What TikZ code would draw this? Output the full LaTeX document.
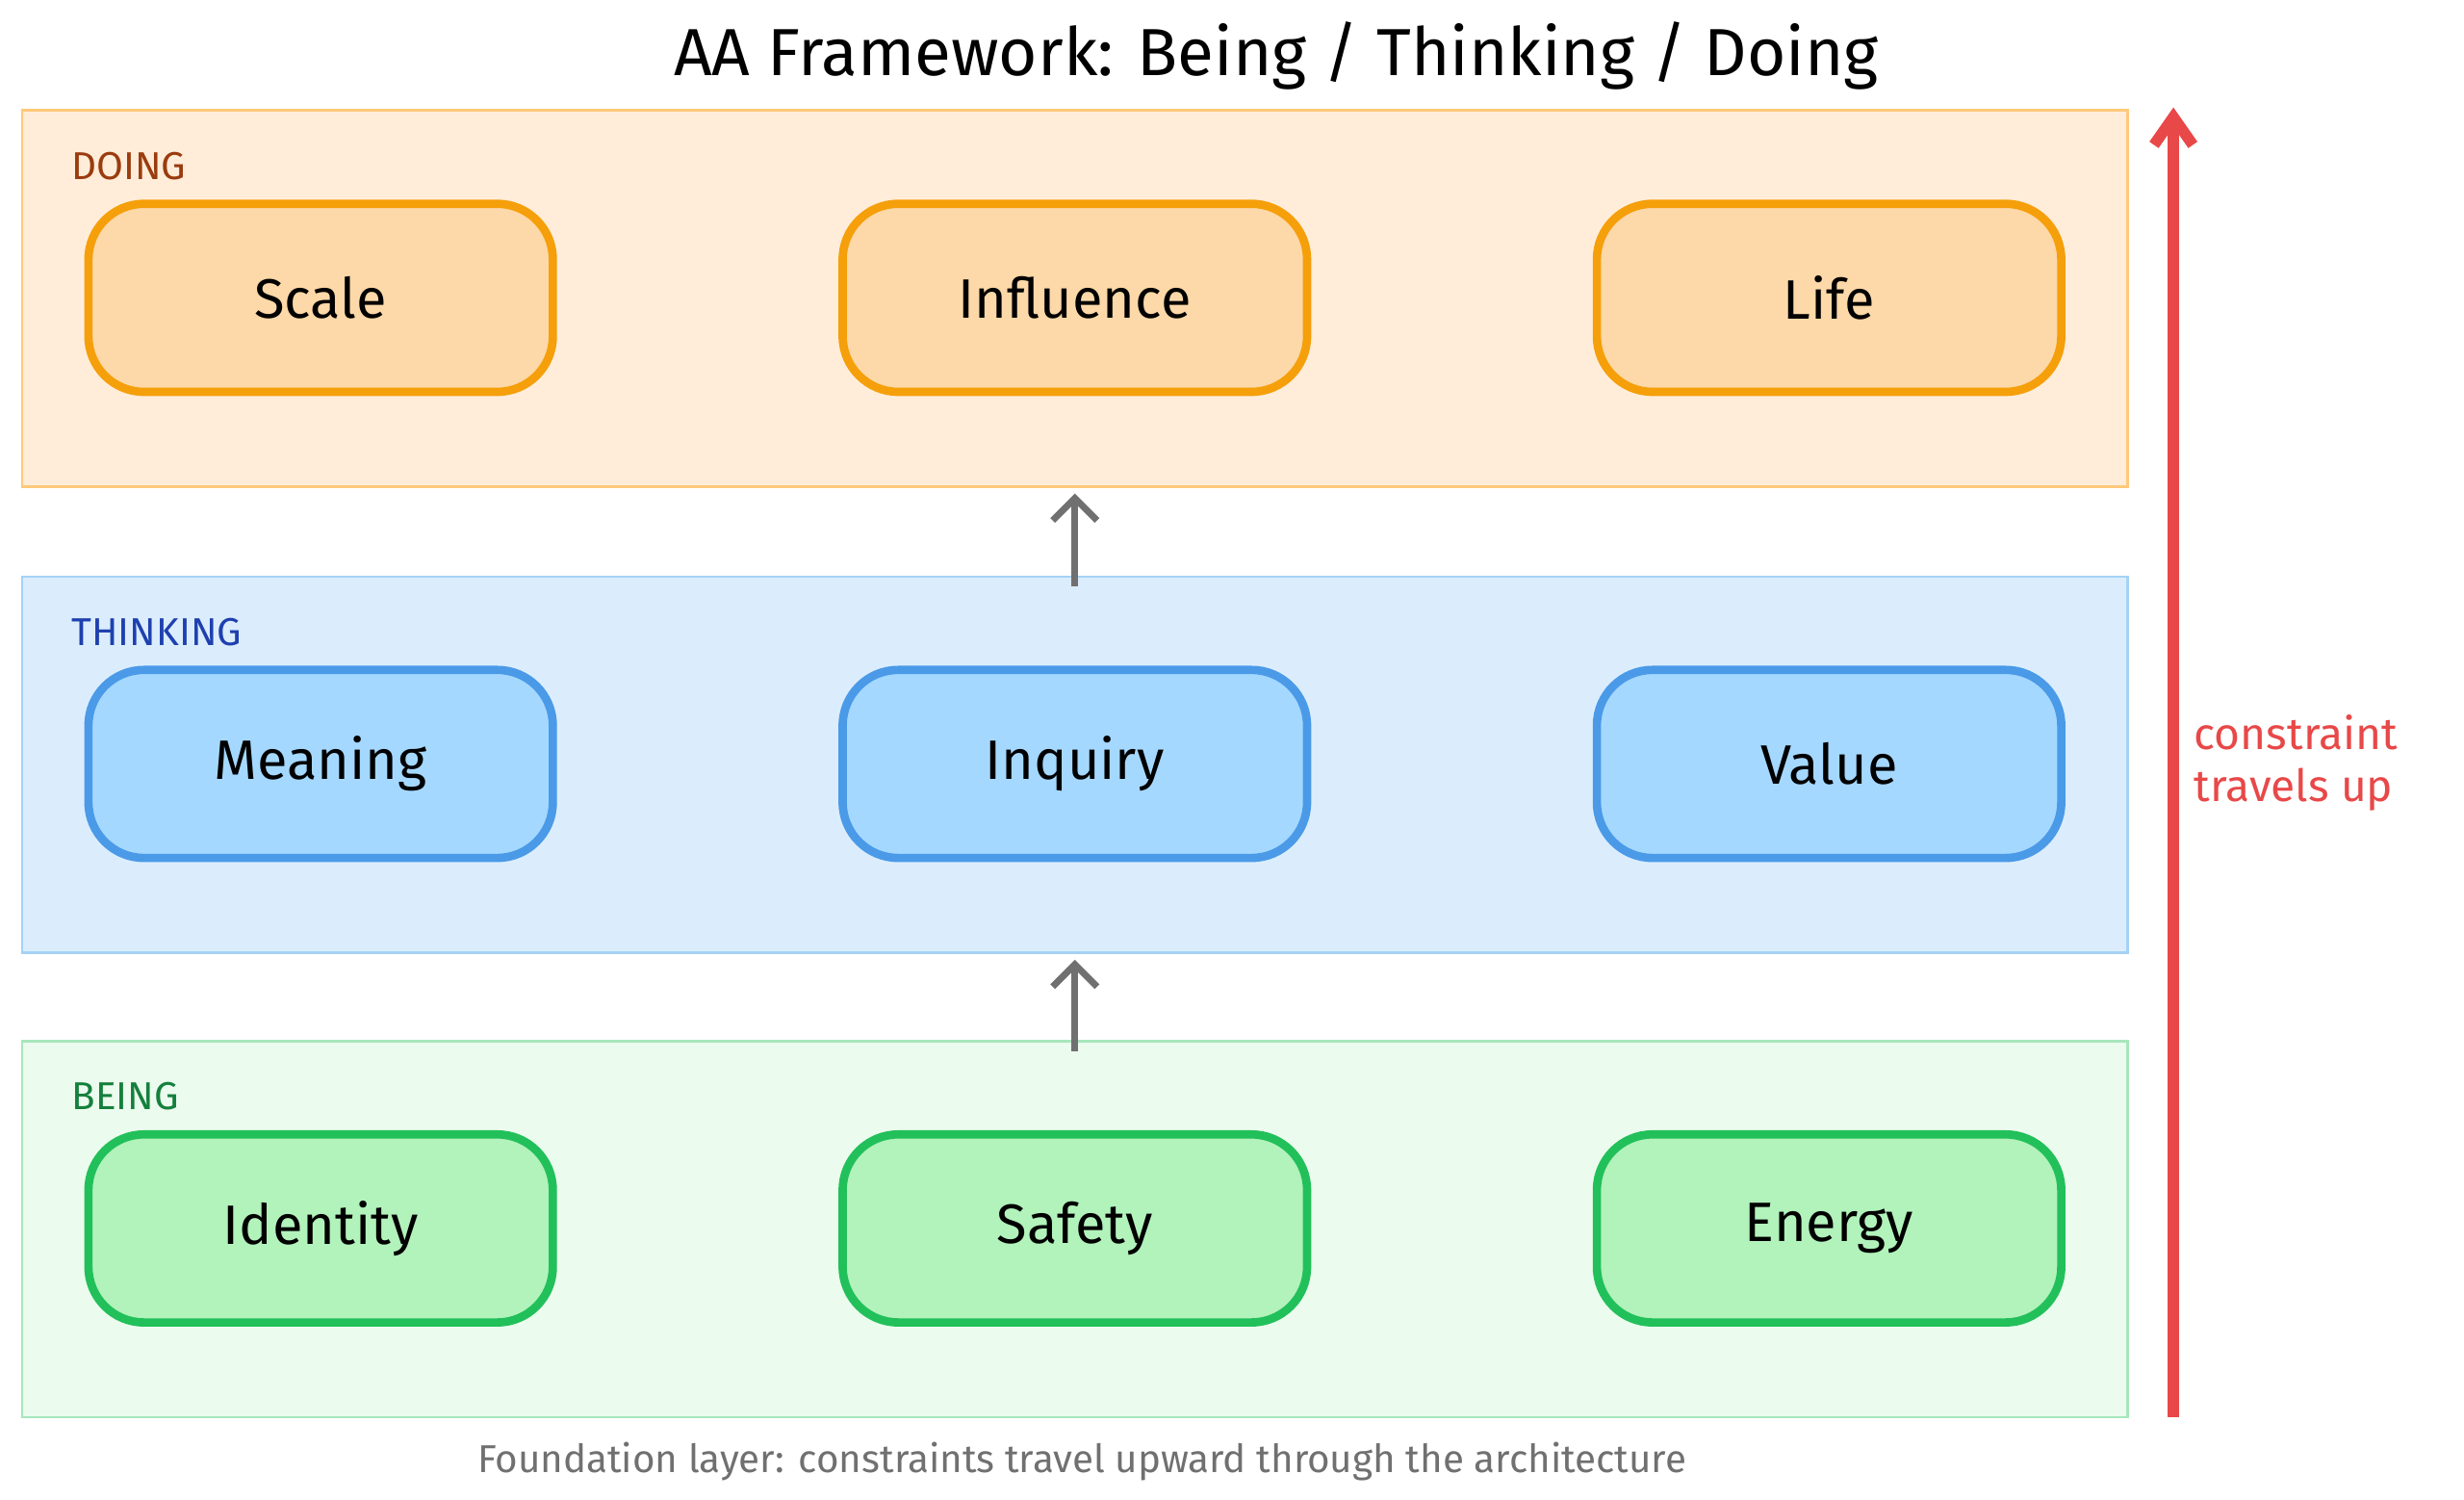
\documentclass[tikz,border=0pt]{standalone}
\usepackage{fontspec}
\setmainfont{Fira Sans}
\usetikzlibrary{arrows.meta, positioning}
\definecolor{doingfill}{HTML}{FFEDDA}
\definecolor{doingdraw}{HTML}{FFC97A}
\definecolor{doingbox}{HTML}{FDD8A8}
\definecolor{doingedge}{HTML}{F59F0A}
\definecolor{doingtext}{HTML}{9A3C0E}
\definecolor{thinkfill}{HTML}{DBEDFD}
\definecolor{thinkdraw}{HTML}{A5D2F5}
\definecolor{thinkbox}{HTML}{A5D8FF}
\definecolor{thinkedge}{HTML}{4A9AE8}
\definecolor{thinktext}{HTML}{1E40AF}
\definecolor{beingfill}{HTML}{EBFBEE}
\definecolor{beingdraw}{HTML}{A8E6BC}
\definecolor{beingbox}{HTML}{B2F2BB}
\definecolor{beingedge}{HTML}{22C05A}
\definecolor{beingtext}{HTML}{15803D}
\definecolor{upred}{HTML}{E84848}
\definecolor{flowgray}{HTML}{707070}

\begin{document}
\begin{tikzpicture}[
    band/.style={
        rectangle,
        minimum width=13.33cm,
        minimum height=2.38cm,
        line width=0.5pt
    },
    item/.style={
        rectangle,
        rounded corners=10pt,
        minimum width=2.94cm,
        minimum height=1.19cm,
        line width=1.5pt,
        font=\normalsize
    },
    bandlabel/.style={
        anchor=west,
        font=\scriptsize
    },
    flow/.style={
        ->,
        >={Straight Barb[length=4pt]},
        line width=1.2pt,
        flowgray
    }
]

\useasboundingbox (0,0) rectangle (15.6,-9.49);

% Title
\node[font=\large] (title) at (8.08,-0.35) {AA Framework: Being / Thinking / Doing};

% Bands
\node[band, draw=doingdraw, fill=doingfill] (doing) at (6.805,-1.89) {};
\node[band, draw=thinkdraw, fill=thinkfill] (thinking) at (6.805,-4.84) {};
\node[band, draw=beingdraw, fill=beingfill] (being) at (6.805,-7.78) {};

\node[bandlabel, doingtext] (ldoing) at (0.33,-1.05) {DOING};
\node[bandlabel, thinktext] (lthinking) at (0.33,-4.0) {THINKING};
\node[bandlabel, beingtext] (lbeing) at (0.33,-6.94) {BEING};

% Doing
\node[item, draw=doingedge, fill=doingbox] (scale) at (2.03,-1.885) {Scale};
\node[item, draw=doingedge, fill=doingbox] (influence) at (6.805,-1.885) {Influence};
\node[item, draw=doingedge, fill=doingbox] (life) at (11.58,-1.885) {Life};

% Thinking
\node[item, draw=thinkedge, fill=thinkbox] (meaning) at (2.03,-4.835) {Meaning};
\node[item, draw=thinkedge, fill=thinkbox] (inquiry) at (6.805,-4.835) {Inquiry};
\node[item, draw=thinkedge, fill=thinkbox] (value) at (11.58,-4.835) {Value};

% Being
\node[item, draw=beingedge, fill=beingbox] (identity) at (2.03,-7.775) {Identity};
\node[item, draw=beingedge, fill=beingbox] (safety) at (6.805,-7.775) {Safety};
\node[item, draw=beingedge, fill=beingbox] (energy) at (11.58,-7.775) {Energy};

% Flow between layers
\draw[flow] ([yshift=-2pt]thinking.north) -- ([yshift=-1pt]doing.south);
\draw[flow] ([yshift=-2pt]being.north) -- ([yshift=-1pt]thinking.south);

% Constraint arrow
\coordinate (cbot) at (13.76,-8.97);
\coordinate (ctop) at (13.76,-0.68);
\draw[->, >={Straight Barb[length=5pt, width=7pt]}, line width=2pt, upred] (cbot) -- (ctop);
\node[anchor=north west, align=left, upred, font=\footnotesize, inner sep=1pt] (cnote) at (13.85,-4.48) {constraint\\travels up};

% Footer
\node[font=\scriptsize, flowgray] (footer) at (6.85,-9.25) {Foundation layer: constraints travel upward through the architecture};

\end{tikzpicture}
\end{document}
